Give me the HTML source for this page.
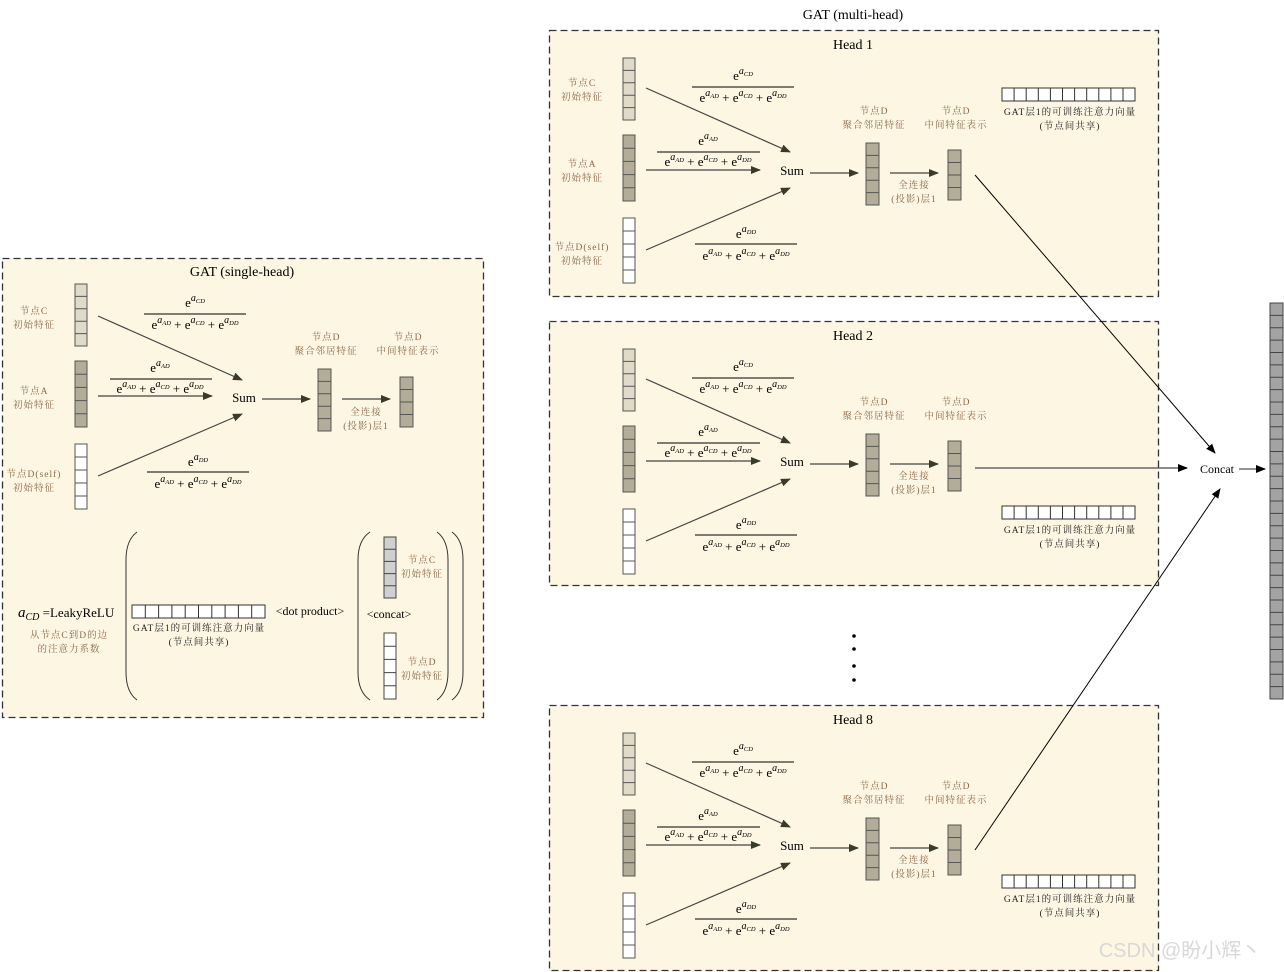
<!DOCTYPE html>
<html><head><meta charset="utf-8"><style>
body{margin:0;background:#fff;}
svg{display:block;}
.t{font-family:"Liberation Serif","Noto Serif CJK SC",serif;fill:#000;}
.c{font-family:"Liberation Serif","Noto Serif CJK SC",serif;font-size:9.5px;fill:#8b6a4a;letter-spacing:1px;}
.k{font-family:"Liberation Serif","Noto Serif CJK SC",serif;font-size:9.5px;fill:#222;letter-spacing:1px;}
.s{font-size:10px;font-style:italic;}
.ss{font-size:6.5px;font-style:italic;}
.a{stroke:#444;stroke-width:1.2;fill:none;marker-end:url(#ar);}
</style></head><body>
<svg width="1284" height="972" viewBox="0 0 1284 972" xmlns="http://www.w3.org/2000/svg">
<defs>
<marker id="ar" markerWidth="10" markerHeight="8" refX="9" refY="4" orient="auto" markerUnits="userSpaceOnUse"><path d="M0,0 L10,4 L0,8 Z" fill="#3a3a2a"/></marker>
<marker id="ab" markerWidth="10" markerHeight="8" refX="9" refY="4" orient="auto" markerUnits="userSpaceOnUse"><path d="M0,0 L10,4 L0,8 Z" fill="#000"/></marker>
</defs>

<text class="t" x="853" y="19" font-size="14" text-anchor="middle">GAT (multi-head)</text>

<!-- Head 1 -->
<g>
<rect x="549.5" y="30.5" width="609" height="266" fill="#fdf6e3" stroke="#333" stroke-width="1.3" stroke-dasharray="7,4"/>
<text class="t" x="853" y="49" font-size="14" text-anchor="middle">Head 1</text>
<rect x="623" y="58" width="12" height="62" fill="#e0dbc9" stroke="#555"/>
<path d="M623 70.4H635M623 82.8H635M623 95.2H635M623 107.6H635" stroke="#555"/>
<rect x="623" y="135" width="12" height="66" fill="#b3ac98" stroke="#555"/>
<path d="M623 148.2H635M623 161.4H635M623 174.6H635M623 187.8H635" stroke="#555"/>
<rect x="623" y="218" width="12" height="65" fill="#fff" stroke="#555"/>
<path d="M623 231H635M623 244H635M623 257H635M623 270H635" stroke="#555"/>
<text class="c" x="582" y="86" text-anchor="middle">节点C</text><text class="c" x="582" y="100" text-anchor="middle">初始特征</text>
<text class="c" x="582" y="167" text-anchor="middle">节点A</text><text class="c" x="582" y="181" text-anchor="middle">初始特征</text>
<text class="c" x="582" y="250" text-anchor="middle">节点D(self)</text><text class="c" x="582" y="264" text-anchor="middle">初始特征</text>
<path class="a" d="M646 88L790 152"/><path class="a" d="M646 170L760 170"/><path class="a" d="M646 250L790 188"/><path class="a" d="M810 173L858 173"/><path class="a" d="M890 173L938 173"/>
<text class="t" x="792" y="175" font-size="13" text-anchor="middle">Sum</text>
<rect x="866" y="143" width="13" height="62" fill="#b3ac98" stroke="#555"/>
<path d="M866 155.4H879M866 167.8H879M866 180.2H879M866 192.6H879" stroke="#555"/>
<rect x="948" y="150" width="13" height="50" fill="#b3ac98" stroke="#555"/>
<path d="M948 162.5H961M948 175H961M948 187.5H961" stroke="#555"/>
<text class="c" x="874" y="114" text-anchor="middle">节点D</text><text class="c" x="874" y="128" text-anchor="middle">聚合邻居特征</text>
<text class="c" x="956" y="114" text-anchor="middle">节点D</text><text class="c" x="956" y="128" text-anchor="middle">中间特征表示</text>
<text class="c" x="914" y="188" text-anchor="middle">全连接</text><text class="c" x="914" y="202" text-anchor="middle">(投影)层1</text>
<text class="t" x="743" y="80" font-size="13" text-anchor="middle">e<tspan class="s" dy="-6">a</tspan><tspan class="ss" dy="2">CD</tspan></text>
<path d="M692 87H794M657 152H760M695 244H797" stroke="#000"/>
<text class="t" x="743" y="102" font-size="13" text-anchor="middle">e<tspan class="s" dy="-6">a</tspan><tspan class="ss" dy="2">AD</tspan><tspan dy="4"> + e</tspan><tspan class="s" dy="-6">a</tspan><tspan class="ss" dy="2">CD</tspan><tspan dy="4"> + e</tspan><tspan class="s" dy="-6">a</tspan><tspan class="ss" dy="2">DD</tspan></text>
<text class="t" x="708" y="145" font-size="13" text-anchor="middle">e<tspan class="s" dy="-6">a</tspan><tspan class="ss" dy="2">AD</tspan></text>
<text class="t" x="708" y="166" font-size="13" text-anchor="middle">e<tspan class="s" dy="-6">a</tspan><tspan class="ss" dy="2">AD</tspan><tspan dy="4"> + e</tspan><tspan class="s" dy="-6">a</tspan><tspan class="ss" dy="2">CD</tspan><tspan dy="4"> + e</tspan><tspan class="s" dy="-6">a</tspan><tspan class="ss" dy="2">DD</tspan></text>
<text class="t" x="746" y="238" font-size="13" text-anchor="middle">e<tspan class="s" dy="-6">a</tspan><tspan class="ss" dy="2">DD</tspan></text>
<text class="t" x="746" y="260" font-size="13" text-anchor="middle">e<tspan class="s" dy="-6">a</tspan><tspan class="ss" dy="2">AD</tspan><tspan dy="4"> + e</tspan><tspan class="s" dy="-6">a</tspan><tspan class="ss" dy="2">CD</tspan><tspan dy="4"> + e</tspan><tspan class="s" dy="-6">a</tspan><tspan class="ss" dy="2">DD</tspan></text>
<rect x="1002" y="88" width="133" height="13" fill="#fff" stroke="#333"/>
<path d="M1014.1 88V101M1026.2 88V101M1038.3 88V101M1050.4 88V101M1062.5 88V101M1074.6 88V101M1086.7 88V101M1098.8 88V101M1110.9 88V101M1123 88V101" stroke="#333"/>
<text class="k" x="1070" y="115" text-anchor="middle">GAT层1的可训练注意力向量</text><text class="k" x="1070" y="129" text-anchor="middle">(节点间共享)</text>
</g>

<!-- Head 2 -->
<g transform="translate(0,291)">
<rect x="549.5" y="30.5" width="609" height="264" fill="#fdf6e3" stroke="#333" stroke-width="1.3" stroke-dasharray="7,4"/>
<text class="t" x="853" y="49" font-size="14" text-anchor="middle">Head 2</text>
<rect x="623" y="58" width="12" height="62" fill="#e0dbc9" stroke="#555"/>
<path d="M623 70.4H635M623 82.8H635M623 95.2H635M623 107.6H635" stroke="#555"/>
<rect x="623" y="135" width="12" height="66" fill="#b3ac98" stroke="#555"/>
<path d="M623 148.2H635M623 161.4H635M623 174.6H635M623 187.8H635" stroke="#555"/>
<rect x="623" y="218" width="12" height="65" fill="#fff" stroke="#555"/>
<path d="M623 231H635M623 244H635M623 257H635M623 270H635" stroke="#555"/>
<path class="a" d="M646 88L790 152"/><path class="a" d="M646 170L760 170"/><path class="a" d="M646 250L790 188"/><path class="a" d="M810 173L858 173"/><path class="a" d="M890 173L938 173"/>
<text class="t" x="792" y="175" font-size="13" text-anchor="middle">Sum</text>
<rect x="866" y="143" width="13" height="62" fill="#b3ac98" stroke="#555"/>
<path d="M866 155.4H879M866 167.8H879M866 180.2H879M866 192.6H879" stroke="#555"/>
<rect x="948" y="150" width="13" height="50" fill="#b3ac98" stroke="#555"/>
<path d="M948 162.5H961M948 175H961M948 187.5H961" stroke="#555"/>
<text class="c" x="874" y="114" text-anchor="middle">节点D</text><text class="c" x="874" y="128" text-anchor="middle">聚合邻居特征</text>
<text class="c" x="956" y="114" text-anchor="middle">节点D</text><text class="c" x="956" y="128" text-anchor="middle">中间特征表示</text>
<text class="c" x="914" y="188" text-anchor="middle">全连接</text><text class="c" x="914" y="202" text-anchor="middle">(投影)层1</text>
<text class="t" x="743" y="80" font-size="13" text-anchor="middle">e<tspan class="s" dy="-6">a</tspan><tspan class="ss" dy="2">CD</tspan></text>
<path d="M692 87H794M657 152H760M695 244H797" stroke="#000"/>
<text class="t" x="743" y="102" font-size="13" text-anchor="middle">e<tspan class="s" dy="-6">a</tspan><tspan class="ss" dy="2">AD</tspan><tspan dy="4"> + e</tspan><tspan class="s" dy="-6">a</tspan><tspan class="ss" dy="2">CD</tspan><tspan dy="4"> + e</tspan><tspan class="s" dy="-6">a</tspan><tspan class="ss" dy="2">DD</tspan></text>
<text class="t" x="708" y="145" font-size="13" text-anchor="middle">e<tspan class="s" dy="-6">a</tspan><tspan class="ss" dy="2">AD</tspan></text>
<text class="t" x="708" y="166" font-size="13" text-anchor="middle">e<tspan class="s" dy="-6">a</tspan><tspan class="ss" dy="2">AD</tspan><tspan dy="4"> + e</tspan><tspan class="s" dy="-6">a</tspan><tspan class="ss" dy="2">CD</tspan><tspan dy="4"> + e</tspan><tspan class="s" dy="-6">a</tspan><tspan class="ss" dy="2">DD</tspan></text>
<text class="t" x="746" y="238" font-size="13" text-anchor="middle">e<tspan class="s" dy="-6">a</tspan><tspan class="ss" dy="2">DD</tspan></text>
<text class="t" x="746" y="260" font-size="13" text-anchor="middle">e<tspan class="s" dy="-6">a</tspan><tspan class="ss" dy="2">AD</tspan><tspan dy="4"> + e</tspan><tspan class="s" dy="-6">a</tspan><tspan class="ss" dy="2">CD</tspan><tspan dy="4"> + e</tspan><tspan class="s" dy="-6">a</tspan><tspan class="ss" dy="2">DD</tspan></text>
<rect x="1002" y="215" width="133" height="13" fill="#fff" stroke="#333"/>
<path d="M1014.1 215V228M1026.2 215V228M1038.3 215V228M1050.4 215V228M1062.5 215V228M1074.6 215V228M1086.7 215V228M1098.8 215V228M1110.9 215V228M1123 215V228" stroke="#333"/>
<text class="k" x="1070" y="242" text-anchor="middle">GAT层1的可训练注意力向量</text><text class="k" x="1070" y="256" text-anchor="middle">(节点间共享)</text>
</g>

<!-- Head 8 -->
<g transform="translate(0,675)">
<rect x="549.5" y="30.5" width="609" height="265" fill="#fdf6e3" stroke="#333" stroke-width="1.3" stroke-dasharray="7,4"/>
<text class="t" x="853" y="49" font-size="14" text-anchor="middle">Head 8</text>
<rect x="623" y="58" width="12" height="62" fill="#e0dbc9" stroke="#555"/>
<path d="M623 70.4H635M623 82.8H635M623 95.2H635M623 107.6H635" stroke="#555"/>
<rect x="623" y="135" width="12" height="66" fill="#b3ac98" stroke="#555"/>
<path d="M623 148.2H635M623 161.4H635M623 174.6H635M623 187.8H635" stroke="#555"/>
<rect x="623" y="218" width="12" height="65" fill="#fff" stroke="#555"/>
<path d="M623 231H635M623 244H635M623 257H635M623 270H635" stroke="#555"/>
<path class="a" d="M646 88L790 152"/><path class="a" d="M646 170L760 170"/><path class="a" d="M646 250L790 188"/><path class="a" d="M810 173L858 173"/><path class="a" d="M890 173L938 173"/>
<text class="t" x="792" y="175" font-size="13" text-anchor="middle">Sum</text>
<rect x="866" y="143" width="13" height="62" fill="#b3ac98" stroke="#555"/>
<path d="M866 155.4H879M866 167.8H879M866 180.2H879M866 192.6H879" stroke="#555"/>
<rect x="948" y="150" width="13" height="50" fill="#b3ac98" stroke="#555"/>
<path d="M948 162.5H961M948 175H961M948 187.5H961" stroke="#555"/>
<text class="c" x="874" y="114" text-anchor="middle">节点D</text><text class="c" x="874" y="128" text-anchor="middle">聚合邻居特征</text>
<text class="c" x="956" y="114" text-anchor="middle">节点D</text><text class="c" x="956" y="128" text-anchor="middle">中间特征表示</text>
<text class="c" x="914" y="188" text-anchor="middle">全连接</text><text class="c" x="914" y="202" text-anchor="middle">(投影)层1</text>
<text class="t" x="743" y="80" font-size="13" text-anchor="middle">e<tspan class="s" dy="-6">a</tspan><tspan class="ss" dy="2">CD</tspan></text>
<path d="M692 87H794M657 152H760M695 244H797" stroke="#000"/>
<text class="t" x="743" y="102" font-size="13" text-anchor="middle">e<tspan class="s" dy="-6">a</tspan><tspan class="ss" dy="2">AD</tspan><tspan dy="4"> + e</tspan><tspan class="s" dy="-6">a</tspan><tspan class="ss" dy="2">CD</tspan><tspan dy="4"> + e</tspan><tspan class="s" dy="-6">a</tspan><tspan class="ss" dy="2">DD</tspan></text>
<text class="t" x="708" y="145" font-size="13" text-anchor="middle">e<tspan class="s" dy="-6">a</tspan><tspan class="ss" dy="2">AD</tspan></text>
<text class="t" x="708" y="166" font-size="13" text-anchor="middle">e<tspan class="s" dy="-6">a</tspan><tspan class="ss" dy="2">AD</tspan><tspan dy="4"> + e</tspan><tspan class="s" dy="-6">a</tspan><tspan class="ss" dy="2">CD</tspan><tspan dy="4"> + e</tspan><tspan class="s" dy="-6">a</tspan><tspan class="ss" dy="2">DD</tspan></text>
<text class="t" x="746" y="238" font-size="13" text-anchor="middle">e<tspan class="s" dy="-6">a</tspan><tspan class="ss" dy="2">DD</tspan></text>
<text class="t" x="746" y="260" font-size="13" text-anchor="middle">e<tspan class="s" dy="-6">a</tspan><tspan class="ss" dy="2">AD</tspan><tspan dy="4"> + e</tspan><tspan class="s" dy="-6">a</tspan><tspan class="ss" dy="2">CD</tspan><tspan dy="4"> + e</tspan><tspan class="s" dy="-6">a</tspan><tspan class="ss" dy="2">DD</tspan></text>
<rect x="1002" y="200" width="133" height="13" fill="#fff" stroke="#333"/>
<path d="M1014.1 200V213M1026.2 200V213M1038.3 200V213M1050.4 200V213M1062.5 200V213M1074.6 200V213M1086.7 200V213M1098.8 200V213M1110.9 200V213M1123 200V213" stroke="#333"/>
<text class="k" x="1070" y="227" text-anchor="middle">GAT层1的可训练注意力向量</text><text class="k" x="1070" y="241" text-anchor="middle">(节点间共享)</text>
</g>

<!-- dots -->
<g fill="#000"><circle cx="854" cy="636" r="1.8"/><circle cx="854" cy="649" r="1.8"/><circle cx="854" cy="666" r="1.8"/><circle cx="854" cy="680" r="1.8"/></g>

<!-- concat lines -->
<path d="M975 175L1215 453" stroke="#000" stroke-width="1" fill="none" marker-end="url(#ab)"/>
<path d="M975 850L1220 489" stroke="#000" stroke-width="1" fill="none" marker-end="url(#ab)"/>
<path d="M975 468L1187 468" stroke="#666" stroke-width="1.5" fill="none" marker-end="url(#ab)"/>
<text class="t" x="1217" y="473" font-size="12" text-anchor="middle">Concat</text>
<path d="M1239 469L1265 469" stroke="#555" stroke-width="1.3" marker-end="url(#ab)"/>
<rect x="1270" y="303" width="13" height="396" fill="#a3a3a3" stroke="#444"/>
<path d="M1270 315.4H1283M1270 327.8H1283M1270 340.1H1283M1270 352.5H1283M1270 364.9H1283M1270 377.3H1283M1270 389.6H1283M1270 402H1283M1270 414.4H1283M1270 426.8H1283M1270 439.1H1283M1270 451.5H1283M1270 463.9H1283M1270 476.3H1283M1270 488.6H1283M1270 501H1283M1270 513.4H1283M1270 525.8H1283M1270 538.1H1283M1270 550.5H1283M1270 562.9H1283M1270 575.3H1283M1270 587.6H1283M1270 600H1283M1270 612.4H1283M1270 624.8H1283M1270 637.1H1283M1270 649.5H1283M1270 661.9H1283M1270 674.3H1283M1270 686.6H1283" stroke="#444"/>

<!-- single-head panel -->
<rect x="2.5" y="258.5" width="481" height="459" fill="#fdf6e3" stroke="#333" stroke-width="1.3" stroke-dasharray="7,4"/>
<text class="t" x="242" y="276" font-size="14" text-anchor="middle">GAT (single-head)</text>
<g transform="translate(-548,226)">
<rect x="623" y="58" width="12" height="62" fill="#e0dbc9" stroke="#555"/>
<path d="M623 70.4H635M623 82.8H635M623 95.2H635M623 107.6H635" stroke="#555"/>
<rect x="623" y="135" width="12" height="66" fill="#b3ac98" stroke="#555"/>
<path d="M623 148.2H635M623 161.4H635M623 174.6H635M623 187.8H635" stroke="#555"/>
<rect x="623" y="218" width="12" height="65" fill="#fff" stroke="#555"/>
<path d="M623 231H635M623 244H635M623 257H635M623 270H635" stroke="#555"/>
<text class="c" x="582" y="88" text-anchor="middle">节点C</text><text class="c" x="582" y="102" text-anchor="middle">初始特征</text>
<text class="c" x="582" y="168" text-anchor="middle">节点A</text><text class="c" x="582" y="182" text-anchor="middle">初始特征</text>
<text class="c" x="582" y="251" text-anchor="middle">节点D(self)</text><text class="c" x="582" y="265" text-anchor="middle">初始特征</text>
<path class="a" d="M646 90L790 154"/><path class="a" d="M646 170L760 170"/><path class="a" d="M646 250L790 188"/><path class="a" d="M810 173L858 173"/><path class="a" d="M890 173L938 173"/>
<text class="t" x="792" y="176" font-size="13" text-anchor="middle">Sum</text>
<rect x="866" y="143" width="13" height="62" fill="#b3ac98" stroke="#555"/>
<path d="M866 155.4H879M866 167.8H879M866 180.2H879M866 192.6H879" stroke="#555"/>
<rect x="948" y="151" width="13" height="50" fill="#b3ac98" stroke="#555"/>
<path d="M948 163.5H961M948 176H961M948 188.5H961" stroke="#555"/>
<text class="c" x="874" y="114" text-anchor="middle">节点D</text><text class="c" x="874" y="128" text-anchor="middle">聚合邻居特征</text>
<text class="c" x="956" y="114" text-anchor="middle">节点D</text><text class="c" x="956" y="128" text-anchor="middle">中间特征表示</text>
<text class="c" x="914" y="189" text-anchor="middle">全连接</text><text class="c" x="914" y="203" text-anchor="middle">(投影)层1</text>
<text class="t" x="743" y="81" font-size="13" text-anchor="middle">e<tspan class="s" dy="-6">a</tspan><tspan class="ss" dy="2">CD</tspan></text>
<path d="M692 88H794M658 153H760M695 246H797" stroke="#000"/>
<text class="t" x="743" y="103" font-size="13" text-anchor="middle">e<tspan class="s" dy="-6">a</tspan><tspan class="ss" dy="2">AD</tspan><tspan dy="4"> + e</tspan><tspan class="s" dy="-6">a</tspan><tspan class="ss" dy="2">CD</tspan><tspan dy="4"> + e</tspan><tspan class="s" dy="-6">a</tspan><tspan class="ss" dy="2">DD</tspan></text>
<text class="t" x="708" y="146" font-size="13" text-anchor="middle">e<tspan class="s" dy="-6">a</tspan><tspan class="ss" dy="2">AD</tspan></text>
<text class="t" x="708" y="167" font-size="13" text-anchor="middle">e<tspan class="s" dy="-6">a</tspan><tspan class="ss" dy="2">AD</tspan><tspan dy="4"> + e</tspan><tspan class="s" dy="-6">a</tspan><tspan class="ss" dy="2">CD</tspan><tspan dy="4"> + e</tspan><tspan class="s" dy="-6">a</tspan><tspan class="ss" dy="2">DD</tspan></text>
<text class="t" x="746" y="240" font-size="13" text-anchor="middle">e<tspan class="s" dy="-6">a</tspan><tspan class="ss" dy="2">DD</tspan></text>
<text class="t" x="746" y="262" font-size="13" text-anchor="middle">e<tspan class="s" dy="-6">a</tspan><tspan class="ss" dy="2">AD</tspan><tspan dy="4"> + e</tspan><tspan class="s" dy="-6">a</tspan><tspan class="ss" dy="2">CD</tspan><tspan dy="4"> + e</tspan><tspan class="s" dy="-6">a</tspan><tspan class="ss" dy="2">DD</tspan></text>
</g>

<!-- formula part -->
<text class="t" x="18" y="617" font-size="13"><tspan font-style="italic" font-size="15">a</tspan><tspan font-style="italic" font-size="10" dy="3">CD</tspan><tspan dy="-3"> =LeakyReLU</tspan></text>
<text class="c" x="69" y="638" text-anchor="middle">从节点C到D的边</text>
<text class="c" x="69" y="652" text-anchor="middle">的注意力系数</text>
<path d="M137 532Q126 540 126 560V672Q126 692 137 700" stroke="#333" fill="none"/>
<rect x="132" y="605" width="133" height="13" fill="#fff" stroke="#333"/>
<path d="M145.3 605V618M158.6 605V618M171.9 605V618M185.2 605V618M198.5 605V618M211.8 605V618M225.1 605V618M238.4 605V618M251.7 605V618" stroke="#333"/>
<text class="k" x="199" y="631" text-anchor="middle">GAT层1的可训练注意力向量</text>
<text class="k" x="199" y="645" text-anchor="middle">(节点间共享)</text>
<text class="t" x="310" y="615" font-size="12" text-anchor="middle">&lt;dot product&gt;</text>
<path d="M370 532Q358 540 358 560V672Q358 692 370 700" stroke="#333" fill="none"/>
<path d="M437 532Q448 540 448 560V672Q448 692 437 700" stroke="#333" fill="none"/>
<path d="M452 532Q463 540 463 560V672Q463 692 452 700" stroke="#333" fill="none"/>
<rect x="384" y="537" width="12" height="61" fill="#d0d0d0" stroke="#444"/>
<path d="M384 549.2H396M384 561.4H396M384 573.6H396M384 585.8H396" stroke="#444"/>
<rect x="384" y="633" width="12" height="66" fill="#fff" stroke="#444"/>
<path d="M384 646.2H396M384 659.4H396M384 672.6H396M384 685.8H396" stroke="#444"/>
<text class="c" x="422" y="563" text-anchor="middle">节点C</text><text class="c" x="422" y="577" text-anchor="middle">初始特征</text>
<text class="t" x="389" y="618" font-size="12" text-anchor="middle">&lt;concat&gt;</text>
<text class="c" x="422" y="665" text-anchor="middle">节点D</text><text class="c" x="422" y="679" text-anchor="middle">初始特征</text>

<text x="1180" y="957" font-family="Liberation Sans,'Noto Sans CJK SC',sans-serif" font-size="20" fill="#d8d8d8" text-anchor="middle">CSDN @盼小辉丶</text>
</svg>
</body></html>
